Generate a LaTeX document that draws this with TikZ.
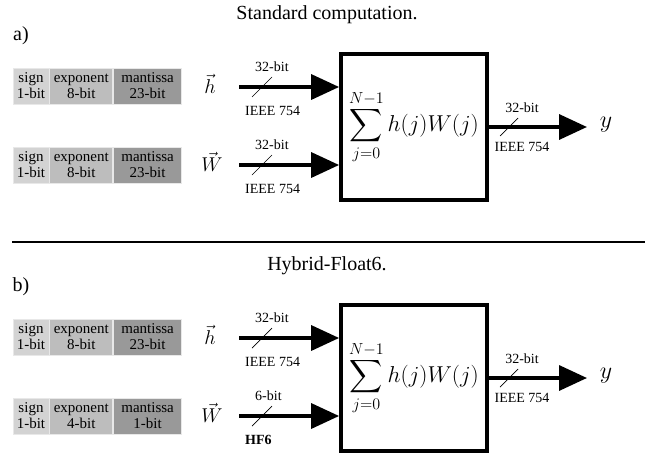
\RequirePackage{fix-cm}
\documentclass[tikz,border=0pt]{standalone}
\DeclareFontShape{OMX}{cmex}{m}{n}{<-> cmex10}{}
\usepackage[no-math]{fontspec}
\setmainfont{Liberation Serif}
\usepackage{tikz}
\usetikzlibrary{arrows.meta,positioning}
\definecolor{signgray}{HTML}{D3D3D3}
\definecolor{expgray}{HTML}{BDBDBD}
\definecolor{mangray}{HTML}{999999}
\definecolor{cellrule}{HTML}{E8E8E8}
\tikzset{
  bitcell/.style={draw=cellrule,line width=0.8pt,minimum height=36pt,
                  inner sep=0pt,align=center,font=\fontsize{15}{16}\selectfont},
  signcell/.style={bitcell,fill=signgray,minimum width=36pt},
  expcell/.style={bitcell,fill=expgray,minimum width=63pt},
  mancell/.style={bitcell,fill=mangray,minimum width=68pt},
  sumbox/.style={draw,line width=3.8pt,minimum width=146pt,minimum height=146pt,
                 inner sep=0pt,font=\fontsize{23}{28}\selectfont},
  busarr/.style={-{Triangle[length=28pt,width=25pt]},line width=3.5pt},
  busmark/.style={line width=0.7pt},
  buslabel/.style={font=\fontsize{14}{16}\selectfont,inner sep=1pt},
  veclabel/.style={font=\fontsize{20}{24}\selectfont},
  headline/.style={font=\fontsize{20}{24}\selectfont}
}

\begin{document}
\begin{tikzpicture}[x=1pt,y=-1pt]
  \useasboundingbox (0,0) rectangle (654,458);

  % one panel per number format
  \foreach \p/\dy/\ttl/\we/\wm/\wb/\wf in {%
      a/0/{Standard computation.}/8/23/32/{IEEE 754},%
      b/251/{Hybrid-Float6.}/4/1/6/{\textbf{HF6}}} {
    \node[headline] (\p title) at (327,15+\dy) {\ttl};
    \node[headline] (\p tag) at (21,36+\dy) {\p)};

    % bit layouts
    \node[signcell] (\p hs) at (31,86+\dy) {sign\\1-bit};
    \node[expcell,right=0pt of \p hs] (\p he) {exponent\\8-bit};
    \node[mancell,right=0pt of \p he] (\p hm) {mantissa\\23-bit};
    \node[signcell] (\p ws) at (31,165+\dy) {sign\\1-bit};
    \node[expcell,right=0pt of \p ws] (\p we) {exponent\\\we-bit};
    \node[mancell,right=0pt of \p we] (\p wm) {mantissa\\\wm-bit};

    \node[veclabel] (\p hv) at (210,84+\dy) {$\vec h$};
    \node[veclabel] (\p wv) at (212,162+\dy) {$\vec W$};

    \node[sumbox] (\p box) at (414,127+\dy) {$\displaystyle\sum_{j=0}^{N-1} h(j)W(j)$};

    % inputs
    \coordinate (\p h0) at (239,87+\dy);
    \coordinate (\p w0) at (239,165+\dy);
    \draw[busarr] (\p h0) -- (\p h0 -| \p box.west);
    \draw[busarr] (\p w0) -- (\p w0 -| \p box.west);
    \coordinate (\p hx) at (262,87+\dy);
    \coordinate (\p wx) at (262,165+\dy);
    \draw[busmark] ([shift={(-10,10)}]\p hx) -- ([shift={(10,-10)}]\p hx);
    \draw[busmark] ([shift={(-10,10)}]\p wx) -- ([shift={(10,-10)}]\p wx);
    \node[buslabel,anchor=west] (\p hb) at (254,67+\dy) {32-bit};
    \node[buslabel,anchor=west] (\p hf) at (244,111+\dy) {IEEE 754};
    \node[buslabel,anchor=west] (\p wb) at (254,145+\dy) {\wb-bit};
    \node[buslabel,anchor=west] (\p wf) at (244,189+\dy) {\wf};

    % output
    \coordinate (\p yt) at (587,127+\dy);
    \node[font=\fontsize{24}{28}\selectfont] (\p y) at (606,125+\dy) {$y$};
    \draw[busarr] (\p box.east) -- (\p yt);
    \coordinate (\p yx) at (509,127+\dy);
    \draw[busmark] ([shift={(-9,9)}]\p yx) -- ([shift={(9,-9)}]\p yx);
    \node[buslabel] (\p yb) at (522,108+\dy) {32-bit};
    \node[buslabel] (\p yf) at (522,147+\dy) {IEEE 754};
  }

  \draw[line width=2.5pt] (12,242) -- (645,242);
\end{tikzpicture}
\end{document}
